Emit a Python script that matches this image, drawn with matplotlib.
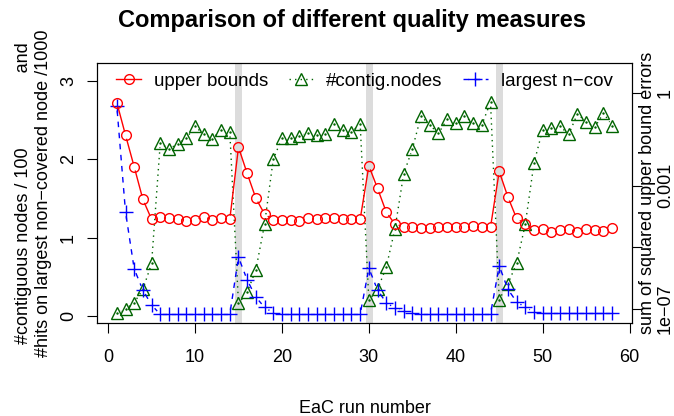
import numpy as np
import matplotlib.pyplot as plt
from matplotlib.lines import Line2D

plt.rcParams['font.family'] = ['Liberation Sans', 'DejaVu Sans']
plt.rcParams['font.size'] = 13

# EaC run numbers
run = np.arange(1, 59)

# sum of squared upper bound errors (right, log axis)
upper_bounds = [0.5, 0.044, 0.0041, 3.6e-4, 8.1e-5, 9.9e-5, 8.7e-5, 8.5e-5, 7.1e-5, 7.7e-5,
                9.9e-5, 7.7e-5, 8.7e-5, 8.1e-5, 0.0177, 0.0025, 3.9e-4, 1.2e-4, 7.7e-5, 7.7e-5,
                7.7e-5, 7.3e-5, 8.7e-5, 8.5e-5, 8.7e-5, 8.7e-5, 8.3e-5, 8.1e-5, 8.1e-5, 0.0044,
                8.2e-4, 1.4e-4, 5.6e-5, 4.7e-5, 4.7e-5, 4.3e-5, 4.1e-5, 4.7e-5, 4.7e-5, 4.7e-5,
                4.7e-5, 4.9e-5, 4.7e-5, 4.5e-5, 0.0029, 4.3e-4, 8.7e-5, 5.7e-5, 3.6e-5, 3.8e-5,
                3.2e-5, 3.6e-5, 3.9e-5, 3.2e-5, 3.9e-5, 3.6e-5, 3.5e-5, 4.1e-5]

# contiguous nodes / 100
contig_nodes = [0.04, 0.085, 0.17, 0.34, 0.67, 2.21, 2.13, 2.20, 2.27, 2.42,
                2.32, 2.26, 2.38, 2.35, 0.16, 0.30, 0.59, 1.17, 2.00, 2.27,
                2.27, 2.30, 2.34, 2.31, 2.32, 2.45, 2.38, 2.35, 2.45, 0.20,
                0.34, 0.62, 1.11, 1.81, 2.13, 2.55, 2.44, 2.33, 2.51, 2.47,
                2.55, 2.47, 2.44, 2.73, 0.21, 0.41, 0.67, 1.17, 1.95, 2.38,
                2.40, 2.42, 2.32, 2.58, 2.48, 2.41, 2.59, 2.43]

# hits on largest non-covered node / 1000
largest_ncov = [2.68, 1.33, 0.60, 0.33, 0.14, 0.02, 0.02, 0.02, 0.02, 0.02,
                0.02, 0.02, 0.02, 0.02, 0.75, 0.46, 0.24, 0.11, 0.04, 0.02,
                0.02, 0.02, 0.02, 0.02, 0.02, 0.02, 0.02, 0.02, 0.02, 0.61,
                0.33, 0.17, 0.10, 0.06, 0.04, 0.025, 0.025, 0.025, 0.025, 0.025,
                0.025, 0.025, 0.025, 0.025, 0.64, 0.34, 0.18, 0.11, 0.055, 0.035,
                0.035, 0.035, 0.035, 0.035, 0.035, 0.035, 0.035, 0.035]

# restarts marked with grey bars
restarts = [15, 30, 45]


def gapped_line(ax, x, y, gap, **kw):
    # like R type="b": line segments stop short of the points
    pts = ax.transData.transform(np.column_stack([x, y]))
    inv = ax.transData.inverted()
    xs, ys = [], []
    for p0, p1 in zip(pts[:-1], pts[1:]):
        d = p1 - p0
        L = np.hypot(d[0], d[1])
        if L <= 2 * gap:
            continue
        u = d / L
        seg = inv.transform([p0 + u * gap, p1 - u * gap])
        xs += [seg[0, 0], seg[1, 0], np.nan]
        ys += [seg[0, 1], seg[1, 1], np.nan]
    ax.plot(xs, ys, **kw)


fig = plt.figure(figsize=(6.74, 4.16), dpi=100)
ax = fig.add_axes([97 / 674, 1 - 323 / 416, 535 / 674, 260 / 416])
ax2 = ax.twinx()

ax.set_xlim(-1.28, 60.28)
ax.set_ylim(-0.09, 3.23)
ax2.set_yscale('log')
ax2.set_ylim(10 ** -7.458, 10 ** 0.984)

for r in restarts:
    ax.axvline(r, color='#dcdcdc', linewidth=5, zorder=0)

# left axis series
gapped_line(ax, run, contig_nodes, 4.5, color='darkgreen', linewidth=1,
            linestyle=(0, (1, 3)))
ax.plot(run, contig_nodes, linestyle='none', marker='^', markersize=8,
        markerfacecolor='none', markeredgecolor='darkgreen', markeredgewidth=1)
ax.plot(run, contig_nodes, linestyle='none', marker='.', markersize=1.5, color='darkgreen')

gapped_line(ax, run, largest_ncov, 4.5, color='blue', linewidth=1,
            linestyle=(0, (4, 4)))
ax.plot(run, largest_ncov, linestyle='none', marker='+', markersize=10,
        markeredgecolor='blue', markeredgewidth=1)

# right axis series
gapped_line(ax2, run, upper_bounds, 4.5, color='red', linewidth=1)
ax2.plot(run, upper_bounds, linestyle='none', marker='o', markersize=7,
         markerfacecolor='none', markeredgecolor='red', markeredgewidth=1)

# axes and ticks
ax.set_xticks(range(0, 61, 10))
ax.set_yticks([0, 1, 2, 3])
ax.tick_params(axis='both', direction='out', length=7, width=0.8)
ax.tick_params(axis='x', pad=12)
ax.tick_params(axis='y', pad=13.5, labelrotation=90)
for lab in ax.get_yticklabels():
    lab.set_horizontalalignment('center')
    lab.set_verticalalignment('center')

ax2.set_yticks([1e-7, 1e-5, 1e-3, 1])
ax2.set_yticklabels(['1e\u221207', '', '0.001', '1'])
ax2.minorticks_off()
ax2.tick_params(axis='y', direction='out', length=7, width=0.8, pad=17,
                labelrotation=90)
for lab in ax2.get_yticklabels():
    lab.set_horizontalalignment('center')
    lab.set_verticalalignment('center')

for sp in ax.spines.values():
    sp.set_linewidth(0.8)

ax.set_xlabel('EaC run number', labelpad=24)
ax.set_ylabel('#contiguous nodes / 100' + ' ' * 15 + 'and\n'
              '#hits on largest non\u2212covered node /1000', labelpad=6)
# right label sits between the axis and its tick labels
fig.text(647 / 674, 1 - 193 / 416, 'sum of squared upper bound errors',
         rotation=90, ha='center', va='center')
ax.set_title('Comparison of different quality measures', fontsize=17,
             fontweight='bold', pad=26, x=0.476)

handles = [
    Line2D([], [], color='red', linewidth=1, marker='o', markersize=7,
           markerfacecolor='none'),
    Line2D([], [], color='darkgreen', linewidth=1, linestyle=(0, (1, 3)),
           marker='^', markersize=8, markerfacecolor='none'),
    Line2D([], [], color='blue', linewidth=1, linestyle=(0, (4, 4)),
           marker='+', markersize=10),
]
ax2.legend(handles, ['upper bounds', '#contig.nodes', 'largest n\u2212cov'],
           loc='upper center', bbox_to_anchor=(0.5, 1.0), ncol=3, frameon=False,
           handlelength=1.3, handletextpad=0.7, columnspacing=1.1,
           borderaxespad=0.1, fontsize=13.5)

fig.savefig('out.png', dpi=100)
